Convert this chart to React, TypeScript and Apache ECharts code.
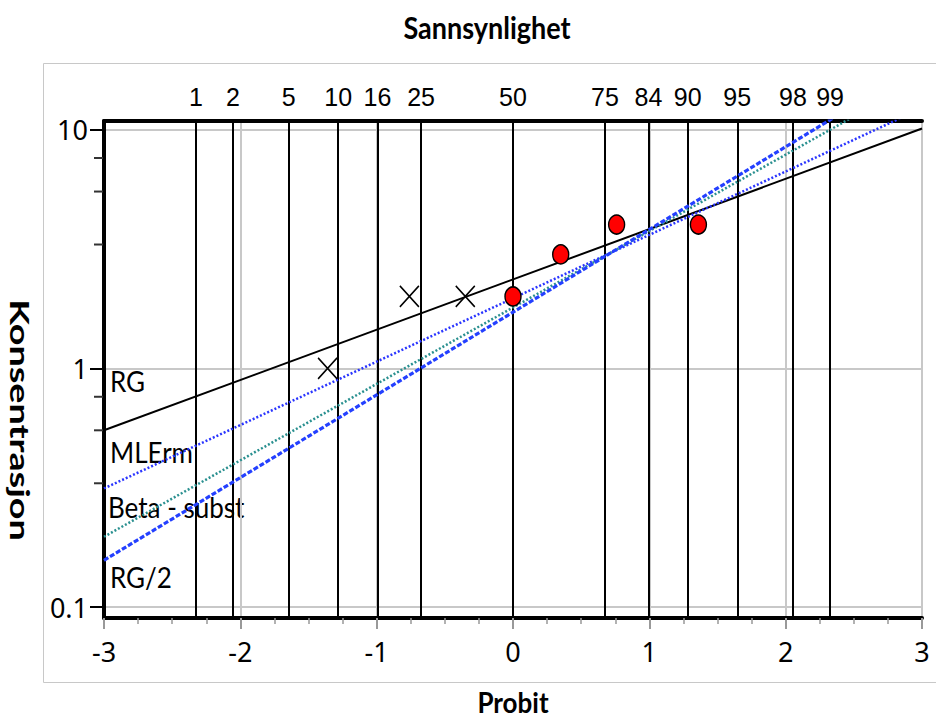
import React, { useEffect, useRef } from "react";
import * as echarts from "echarts";

// Probability scale (top axis): percent labels and their probit positions
const pctLabels = ["1", "2", "5", "10", "16", "25", "50", "75", "84", "90", "95", "98", "99"];
const pctProbits = [-2.326, -2.054, -1.645, -1.282, -0.994, -0.674, 0, 0.674, 0.994, 1.282, 1.645, 2.054, 2.326];

// Concentration axis ticks
const yMajorTicks = [0.1, 1, 10];
const yMinorTicks = [0.33, 0.55, 0.76, 3.3, 5.5, 7.6];

// Fitted lognormal lines: value at probit -3 and +3
const fitProbit = [-3, 3];
const fitRG = [0.55, 10.1];
const fitMLErm = [0.314, 12.3];
const fitBeta = [0.197, 16.4];
const fitRG2 = [0.157, 18.8];

// Observations: non-detects (X) and detects (red)
const ndProbit = [-1.36, -0.76, -0.35];
const ndValue = [1, 2, 2];
const detProbit = [0, 0.35, 0.76, 1.36];
const detValue = [2, 3, 4, 4];

const X_MIN = -3;
const X_MAX = 3;
const Y_MIN = 0.09;
const Y_MAX = 10.86;

const CHART_W = 936;
const CHART_H = 718;

const pairs = (xs: number[], ys: number[]) => xs.map((x, i) => [x, ys[i]]);

export default function App() {
  const ref = useRef<HTMLDivElement>(null);

  useEffect(() => {
    if (!ref.current) return;
    const chart = echarts.init(ref.current, undefined, { renderer: "svg" });
    const tickFont = "'Noto Sans', 'DejaVu Sans', sans-serif";
    const titleFont = "Lato, 'Open Sans', sans-serif";

    const fitLine = (name: string, vals: number[], color: string, width: number, type: any) => ({
      name,
      type: "line",
      xAxisIndex: 0,
      yAxisIndex: 0,
      symbol: "none",
      silent: true,
      data: pairs(fitProbit, vals),
      lineStyle: { color, width, type },
      z: 3,
    });

    const option: any = {
      animation: false,
      backgroundColor: "#ffffff",
      grid: {
        left: 104,
        right: 14,
        top: 121,
        bottom: 100,
        show: true,
        borderColor: "#000",
        borderWidth: 2,
        backgroundColor: "transparent",
      },
      xAxis: [
        {
          type: "value",
          position: "bottom",
          min: X_MIN,
          max: X_MAX,
          interval: 1,
          axisLine: { onZero: false, lineStyle: { color: "#000", width: 4 } },
          axisTick: { length: 11, lineStyle: { color: "#999", width: 2 } },
          minorTick: { show: true, splitNumber: 4, length: 6, lineStyle: { color: "#999", width: 1.5 } },
          axisLabel: { fontSize: 27, color: "#000", margin: 20, fontFamily: tickFont },
          splitLine: { show: true, lineStyle: { color: "#c8c8c8", width: 2 } },
          minorSplitLine: { show: false },
        },
        {
          type: "value",
          position: "top",
          min: X_MIN,
          max: X_MAX,
          axisLine: { onZero: false, lineStyle: { color: "#000", width: 4 } },
          axisTick: { show: false, customValues: pctProbits },
          axisLabel: {
            customValues: pctProbits,
            fontSize: 25,
            color: "#000",
            margin: 12,
            fontFamily: "'Liberation Sans Narrow', 'Liberation Sans', Arial, sans-serif",
            formatter: (v: number) => {
              let best = 0;
              pctProbits.forEach((p, i) => {
                if (Math.abs(p - v) < Math.abs(pctProbits[best] - v)) best = i;
              });
              return pctLabels[best];
            },
          },
          splitLine: { show: true, lineStyle: { color: "#000", width: 2 } },
        },
      ],
      yAxis: [
        {
          type: "log",
          logBase: 10,
          min: Y_MIN,
          max: Y_MAX,
          position: "left",
          axisLine: { onZero: false, lineStyle: { color: "#000", width: 4 } },
          axisTick: { customValues: yMajorTicks, length: 14, lineStyle: { color: "#000", width: 2 } },
          axisLabel: {
            customValues: yMajorTicks,
            fontSize: 27,
            color: "#000",
            margin: 16,
            fontFamily: tickFont,
            formatter: (v: number) => (v < 1 ? v.toFixed(1) : String(Math.round(v))),
          },
          splitLine: { show: true, lineStyle: { color: "#c8c8c8", width: 2 } },
        },
      ],
      series: [
        fitLine("RG", fitRG, "#000000", 2, "solid"),
        fitLine("MLErm", fitMLErm, "#2a35ff", 2.5, [2, 2]),
        fitLine("Beta - subst", fitBeta, "#2a9090", 2.5, [2, 2]),
        fitLine("RG/2", fitRG2, "#2440ff", 3.2, [5, 2]),
        {
          name: "Ikke påvist",
          type: "scatter",
          xAxisIndex: 0,
          yAxisIndex: 0,
          symbol: "path://M0,0L10,10M10,0L0,10",
          symbolSize: [19, 21],
          itemStyle: { color: "none", borderColor: "#000", borderWidth: 1.6, opacity: 1 },
          data: pairs(ndProbit, ndValue),
          z: 5,
        },
        {
          name: "Påvist",
          type: "scatter",
          xAxisIndex: 0,
          yAxisIndex: 0,
          symbol: "circle",
          symbolSize: [16, 19],
          itemStyle: { color: "#ff0000", borderColor: "#000", borderWidth: 1.5, opacity: 1 },
          data: pairs(detProbit, detValue),
          z: 6,
        },
        {
          // minor ticks of the concentration axis, placed through the axis scale
          name: "minorTicks",
          type: "custom",
          xAxisIndex: 0,
          yAxisIndex: 0,
          silent: true,
          clip: false,
          z: 10,
          data: yMinorTicks.map((v) => [X_MIN, v]),
          encode: { x: 0, y: 1 },
          renderItem: (params: any, api: any) => {
            const p = api.coord([api.value(0), api.value(1)]);
            return {
              type: "line",
              shape: { x1: p[0] - 10, y1: p[1], x2: p[0] - 1, y2: p[1] },
              style: { stroke: "#333", lineWidth: 2 },
            };
          },
        },
      ],
      graphic: [
        {
          type: "rect",
          z: -1,
          shape: { x: 43.5, y: 63.5, width: 920, height: 619 },
          style: { fill: "none", stroke: "#c8c8c8", lineWidth: 1 },
        },
        {
          type: "text",
          x: 487,
          y: 27,
          scaleY: 1.1,
          style: { text: "Sannsynlighet", fontFamily: titleFont, fontWeight: "bold", fontSize: 27, fill: "#000", align: "center", verticalAlign: "middle" },
        },
        {
          type: "text",
          x: 513,
          y: 702,
          scaleY: 1.1,
          style: { text: "Probit", fontFamily: titleFont, fontWeight: "bold", fontSize: 26, fill: "#000", align: "center", verticalAlign: "middle" },
        },
        {
          type: "text",
          x: 20,
          y: 420,
          rotation: -Math.PI / 2,
          scaleX: 1.4,
          style: { text: "Konsentrasjon", fontFamily: titleFont, fontWeight: "bold", fontSize: 27, fill: "#000", align: "center", verticalAlign: "middle" },
        },
        {
          type: "text",
          x: 110,
          y: 381,
          scaleY: 1.1,
          style: { text: "RG", fontFamily: titleFont, fontSize: 26, fill: "#000", align: "left", verticalAlign: "middle" },
        },
        {
          type: "text",
          x: 110,
          y: 452,
          scaleY: 1.1,
          style: { text: "MLErm", fontFamily: titleFont, fontSize: 26, fill: "#000", align: "left", verticalAlign: "middle" },
        },
        {
          type: "text",
          x: 108,
          y: 507,
          scaleY: 1.1,
          style: { text: "Beta - subst", fontFamily: titleFont, fontSize: 26, fill: "#000", align: "left", verticalAlign: "middle" },
        },
        {
          type: "text",
          x: 110,
          y: 577,
          scaleY: 1.1,
          style: { text: "RG/2", fontFamily: titleFont, fontSize: 26, fill: "#000", align: "left", verticalAlign: "middle" },
        },
      ],
    };

    chart.setOption(option);
    return () => chart.dispose();
  }, []);

  return (
    <div
      ref={ref}
      style={{ position: "absolute", left: 0, top: 0, width: CHART_W, height: CHART_H }}
    />
  );
}
